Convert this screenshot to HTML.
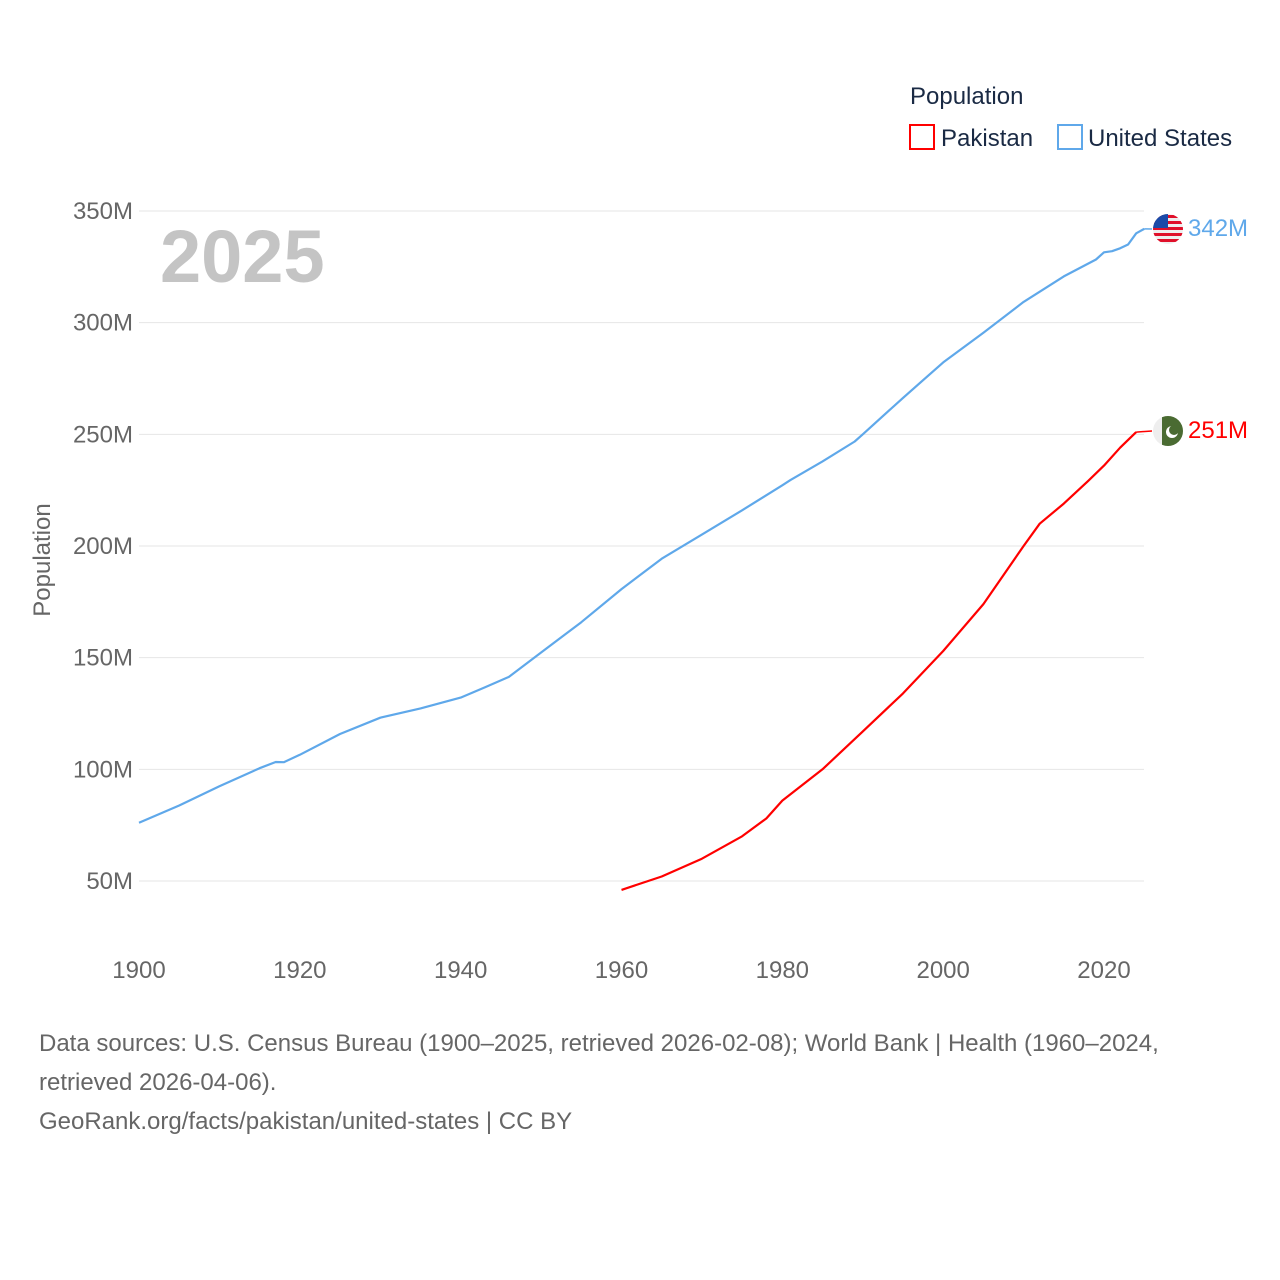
<!DOCTYPE html>
<html><head><meta charset="utf-8"><style>
body{margin:0;background:#fff;font-family:"Liberation Sans",sans-serif}
svg text{font-family:"Liberation Sans",sans-serif}
.src{position:absolute;left:39px;top:1024px;font-size:24px;line-height:39px;color:#666;width:1195px}
</style></head><body>
<div style="position:relative;width:1280px;height:1280px">
<svg id="chart" width="1280" height="1280" style="position:absolute;left:0;top:0">
<g id="grid"></g><g id="xt"></g><g id="lines"></g>
<text x="160" y="282" font-size="74" font-weight="bold" fill="#c4c4c4">2025</text>
<text transform="translate(50,560) rotate(-90)" text-anchor="middle" font-size="24" fill="#666">Population</text>
<text x="910" y="104" font-size="24" fill="#1a2a44">Population</text>
<g><rect x="910" y="125" width="24" height="24" fill="none" stroke="red" stroke-width="2"/><text x="941" y="146" font-size="24" fill="#1a2a44">Pakistan</text></g>
<g><rect x="1058" y="125" width="24" height="24" fill="none" stroke="#5fa8ea" stroke-width="2"/><text x="1088" y="146" font-size="24" fill="#1a2a44">United States</text></g>
<g>
<clipPath id="cu"><circle cx="1168" cy="229" r="15"/></clipPath>
<g clip-path="url(#cu)"><rect x="1150" y="212" width="36" height="34" fill="#eee"/>
<rect x="1150" y="215" width="36" height="3" fill="#e0102a"/><rect x="1150" y="221" width="36" height="3" fill="#e0102a"/><rect x="1150" y="227" width="36" height="3" fill="#e0102a"/><rect x="1150" y="233" width="36" height="3" fill="#e0102a"/><rect x="1150" y="239" width="36" height="3" fill="#e0102a"/>
<rect x="1150" y="212" width="18" height="16" fill="#1b4aa8"/></g></g>
<g>
<clipPath id="cp"><circle cx="1168" cy="431" r="15"/></clipPath>
<g clip-path="url(#cp)"><rect x="1150" y="414" width="36" height="34" fill="#eee"/><rect x="1162" y="414" width="24" height="34" fill="#4a6b32"/>
<circle cx="1172" cy="432" r="6" fill="#fff"/><circle cx="1174" cy="430" r="5" fill="#4a6b32"/></g></g>
<text x="1188" y="236" font-size="24" fill="#5fa8ea">342M</text>
<text x="1188" y="438" font-size="24" fill="red">251M</text>
</svg>
<div class="src">Data sources: U.S. Census Bureau (1900–2025, retrieved 2026-02-08); World Bank | Health (1960–2024, retrieved 2026-04-06).<br>GeoRank.org/facts/pakistan/united-states | CC BY</div>
</div>
<script>
const usYears=[1900,1905,1910,1915,1917,1918,1920,1925,1930,1935,1940,1943,1946,1950,1955,1960,1965,1970,1975,1980,1981,1985,1989,1990,1995,2000,2005,2010,2015,2019,2020,2021,2022,2023,2024,2025];
const usValues=[76.1,83.8,92.4,100.5,103.3,103.2,106.5,115.8,123.1,127.3,132.1,136.7,141.4,152.3,165.9,180.7,194.3,205.1,216,227.2,229.5,237.9,246.8,250,266.3,282.2,295.5,309.3,320.7,328.3,331.5,332,333.3,335,340,342];
const pkYears=[1960,1965,1970,1975,1978,1980,1985,1990,1995,2000,2005,2010,2012,2015,2018,2020,2022,2024];
const pkValues=[46,52,60,70,78,86,100,117,134,153,174,200,210,219,229,236,244,251];
const yTicks=[50,100,150,200,250,300,350];
const xTicks=[1900,1920,1940,1960,1980,2000,2020];
const NS="http://www.w3.org/2000/svg";
const X=y=>139+(y-1900)*965/120;
const Y=v=>881-(v-50)*670/300;
function mk(t,a,p){const e=document.createElementNS(NS,t);for(const k in a)e.setAttribute(k,a[k]);p.appendChild(e);return e;}
const g=document.getElementById('grid'),xt=document.getElementById('xt'),L=document.getElementById('lines');
yTicks.forEach(v=>{
 const l=mk('line',{x1:139,x2:1144,y1:Y(v),y2:Y(v),stroke:'#e6e6e6'},g);
 
 
 const t=mk('text',{x:133,y:Y(v)+8,'text-anchor':'end','font-size':24,fill:'#666'},g);
 
 
 t.textContent=v+'M';
});
xTicks.forEach(y=>{
 const t=mk('text',{x:X(y),y:978,'text-anchor':'middle','font-size':24,fill:'#666'},xt);
 
 
 t.textContent=y;
});
function line(xs,vs,c,name,fy){
 const d=xs.map((y,i)=>(i?'L':'M')+X(y).toFixed(1)+','+Y(vs[i]).toFixed(1)).join('');
 const p=mk('path',{d:d,fill:'none',stroke:c,'stroke-width':2.2,'stroke-linejoin':'round'},L);
 
 
 const lx=X(xs[xs.length-1]),ly=Y(vs[vs.length-1]);
 const c2=mk('path',{d:'M'+lx+','+ly+'L1152,'+fy,fill:'none',stroke:c,'stroke-width':1.5},L);
 
 
}
line(usYears,usValues,'#5fa8ea','us-line',229);
line(pkYears,pkValues,'#ff0000','pakistan-line',431);
</script>
</body></html>
